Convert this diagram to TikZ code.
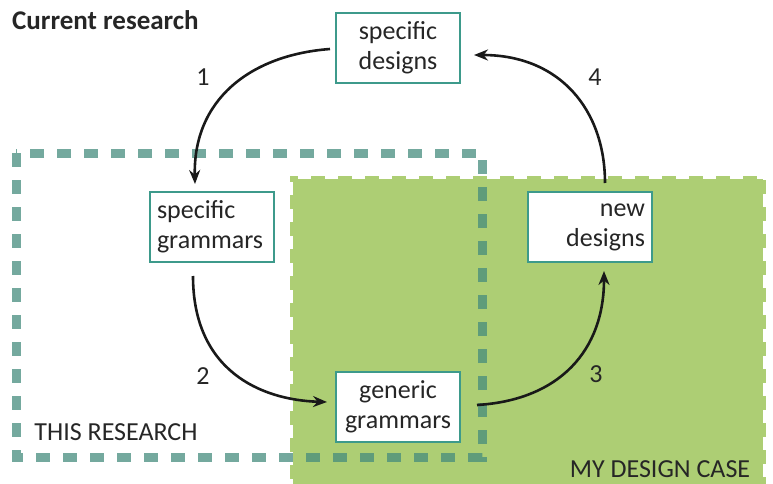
\documentclass[tikz,border=0pt]{standalone}
\usepackage{fontspec}
\setmainfont{Carlito}
\usetikzlibrary{arrows.meta}
\definecolor{boxteal}{RGB}{61,154,139}
\definecolor{dashteal}{RGB}{70,140,125}
\definecolor{casegreen}{RGB}{173,206,116}
\tikzset{
  stagebox/.style={draw=boxteal, line width=2.2pt, fill=white, text width=110pt,
    inner sep=7pt, minimum height=70pt, font=\fontsize{26}{30}\selectfont, text=black!85},
  flow/.style={line width=2.6pt, -{Stealth[length=14pt,width=11pt]}, black!90},
  numlabel/.style={font=\fontsize{26}{30}\selectfont, text=black!85},
  arealabel/.style={font=\fontsize{26}{30}\selectfont, text=black!85, inner sep=0pt}
}
\begin{document}
\begin{tikzpicture}[x=1pt,y=-1pt]
\useasboundingbox (0,0) rectangle (773,484);
% my design case area
\fill[casegreen] (290,176) rectangle (766,492);
\draw[white, line width=6pt, dash pattern=on 13pt off 14pt] (290,492) -- (290,176) -- (766,176) -- (766,492);
% this research area
\draw[dashteal, opacity=0.75, line width=9pt, dash pattern=on 14pt off 13pt] (16,153) rectangle (482,457);
% title
\node[anchor=base west, font=\bfseries\fontsize{27}{30}\selectfont, text=black!85, inner sep=0pt] (title) at (12,30) {Current research};
% boxes
\node[stagebox, align=center] (sd) at (398,48) {specific\\designs};
\node[stagebox, align=left] (sg) at (212,227) {specific\\grammars};
\node[stagebox, align=center] (gg) at (398,407) {generic\\grammars};
\node[stagebox, align=right] (nd) at (590,227) {new\\designs};
% area labels
\node[arealabel] (thisres) at (116,432) {THIS RESEARCH};
\node[arealabel] (mycase) at (660,469) {MY DESIGN CASE};
% connectors
\coordinate (a1s) at (330,49);
\coordinate (a1e) at (195,184);
\coordinate (a2s) at (193,276);
\coordinate (a2e) at (327,402);
\coordinate (a3s) at (477,405);
\coordinate (a3e) at (604,271);
\coordinate (a4s) at (605,183);
\coordinate (a4e) at (474,55);
\draw[flow] (a1s) .. controls (250,55) and (193,100) .. (a1e);
\draw[flow] (a2s) .. controls (193,370) and (260,400) .. (a2e);
\draw[flow] (a3s) .. controls (560,400) and (604,350) .. (a3e);
\draw[flow] (a4s) .. controls (605,110) and (560,55) .. (a4e);
% step numbers
\node[numlabel] (n1) at (203,77) {1};
\node[numlabel] (n2) at (203,376) {2};
\node[numlabel] (n3) at (596,374) {3};
\node[numlabel] (n4) at (595,77) {4};
\end{tikzpicture}
\end{document}
